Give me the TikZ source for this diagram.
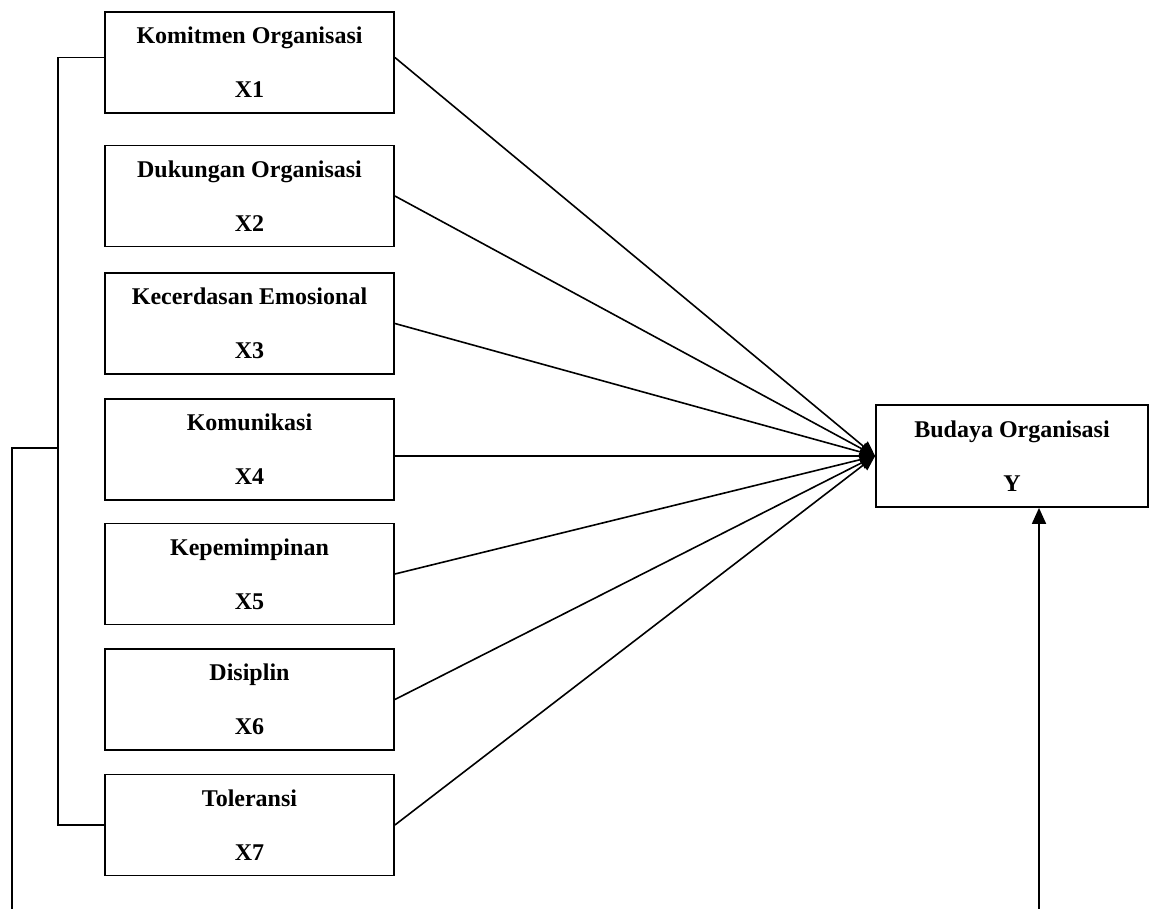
\documentclass[tikz,border=0pt]{standalone}
\usepackage{fontspec}
\setmainfont{Liberation Serif}
\usetikzlibrary{arrows.meta}
\begin{document}
\begin{tikzpicture}[x=0.5pt,y=-0.5pt,
  varbox/.style={draw, line width=0.9pt, rectangle, inner sep=0pt,
    minimum width=144.5pt, minimum height=50.5pt, align=center,
    font=\fontsize{12}{27}\selectfont\bfseries},
  ybox/.style={varbox, minimum width=136pt, minimum height=51pt},
  link/.style={line width=0.8pt, -{Triangle[length=7.5pt,width=6.5pt]}},
  plain/.style={line width=0.9pt}
]
\useasboundingbox (0,0) rectangle (1162,909);

\node[varbox] (X1) at (249.5,62.5) {Komitmen Organisasi\\X1};
\node[varbox] (X2) at (249.5,196) {Dukungan Organisasi\\X2};
\node[varbox] (X3) at (249.5,323.5) {Kecerdasan Emosional\\X3};
\node[varbox] (X4) at (249.5,449.5) {Komunikasi\\X4};
\node[varbox] (X5) at (249.5,574) {Kepemimpinan\\X5};
\node[varbox] (X6) at (249.5,699.5) {Disiplin\\X6};
\node[varbox] (X7) at (249.5,825) {Toleransi\\X7};

\node[ybox] (Y) at (1012,456) {Budaya Organisasi\\Y};

\coordinate (bt) at (58,0);
\coordinate (outerTop) at (12,448);
\coordinate (outerBot) at (12,909);
\coordinate (yBot) at (1039,909);
\coordinate (x1r) at ([yshift=2.5pt]X1.east);
\coordinate (x1l) at ([yshift=2.5pt]X1.west);

% links to Y
\draw[link] (x1r) -- (Y.west);
\draw[link] (X2.east) -- (Y.west);
\draw[link] (X3.east) -- (Y.west);
\draw[link] (Y.west -| X4.east) -- (Y.west);
\draw[link] (X5.east) -- (Y.west);
\draw[link] (X6.east) -- (Y.west);
\draw[link] (X7.east) -- (Y.west);

% bracket on the left
\draw[plain] (x1l) -- (x1l -| bt) -- (X7.west -| bt) -- (X7.west);
\draw[plain] (outerBot) -- (outerTop) -- (outerTop -| bt);

% arrow from below into Y
\draw[line width=0.9pt, -{Triangle[length=8pt,width=7pt]}] (yBot) -- (yBot |- Y.south);
\end{tikzpicture}
\end{document}
